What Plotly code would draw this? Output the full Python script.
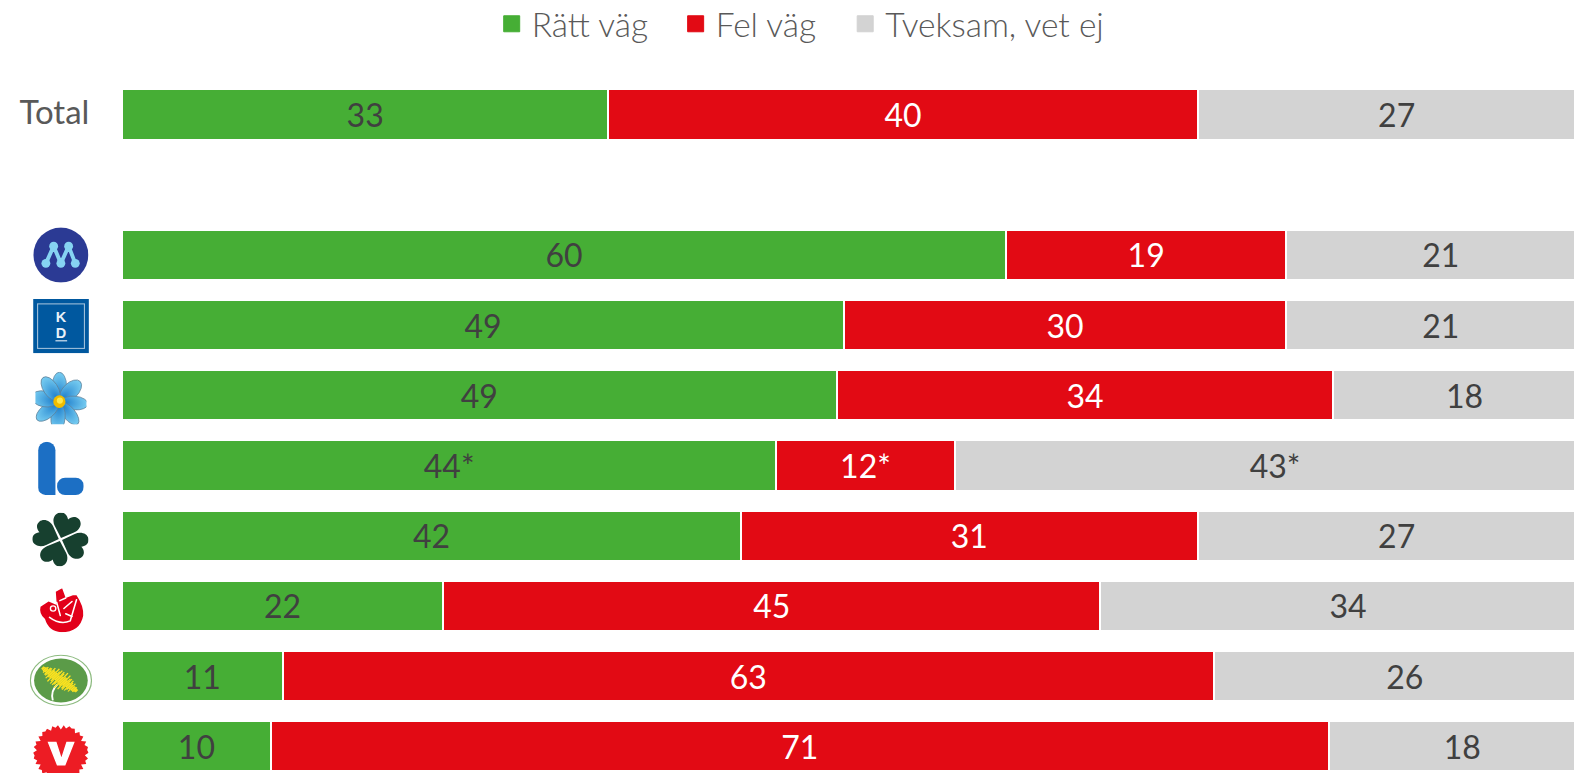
import base64, math
import plotly.graph_objects as go

categories = ["Total", "blank", "M", "KD", "SD", "L", "C", "S", "MP", "V"]
series_names = ["Rätt väg", "Fel väg", "Tveksam, vet ej"]
ratt = [33.0, None, 60.0, 49.0, 48.5, 44.4, 42.0, 21.8, 10.9, 10.1]
fel = [40.0, None, 19.0, 30.0, 33.7, 12.1, 31.0, 44.6, 63.2, 71.8]
tveksam = [27.0, None, 21.0, 21.0, 17.8, 43.5, 27.0, 33.6, 25.9, 18.1]
ratt_labels = ["33", "", "60", "49", "49", "44*", "42", "22", "11", "10"]
fel_labels = ["40", "", "19", "30", "34", "12*", "31", "45", "63", "71"]
tveksam_labels = ["27", "", "21", "21", "18", "43*", "27", "34", "26", "18"]
colors = ["#46AE35", "#E20A14", "#D3D3D3"]
label_colors = ["#404040", "#FFFFFF", "#404040"]

W, H = 1574, 773
LEFT = 121.6
PX_PER_UNIT = 14.74
ROW0, ROW_STEP = 114.4, 70.2
legend_swatch_x = [504, 688, 857.6]
legend_center_y = 24


def svg_uri(body, vb="0 0 100 100"):
    s = f'<svg xmlns="http://www.w3.org/2000/svg" viewBox="{vb}" preserveAspectRatio="none">{body}</svg>'
    return "data:image/svg+xml;base64," + base64.b64encode(s.encode()).decode()


m_logo = (
    '<circle cx="50" cy="50" r="49.5" fill="#2B3A94"/>'
    '<path d="M23 65L37 34L50 65L64 34L76 65" fill="none" stroke="#86D3F2" stroke-width="7" stroke-linejoin="round"/>'
    + "".join(f'<circle cx="{x}" cy="{y}" r="8" fill="#86D3F2"/>' for x, y in [(37, 34), (64, 34), (23, 65), (50, 65), (76, 65)])
)
kd_logo = (
    '<rect width="100" height="100" fill="#00589F"/>'
    '<rect x="8" y="9" width="84" height="82" fill="none" stroke="#9DBEDA" stroke-width="2"/>'
    '<text x="50" y="43" font-family="Liberation Sans" font-weight="bold" font-size="26" text-anchor="middle" fill="#E8F1F8">K</text>'
    '<text x="50" y="71" font-family="Liberation Sans" font-weight="bold" font-size="26" text-anchor="middle" fill="#E8F1F8">D</text>'
    '<rect x="40" y="76" width="21" height="2" fill="#E8F1F8"/>'
)
petals = "".join(
    f'<ellipse cx="47" cy="27" rx="{rx}" ry="26" fill="url(#g)" stroke="#5E7F98" stroke-width="1.4" transform="rotate({a} 47 57)"/>'
    for a, rx in [(0, 14), (47, 15), (95, 13), (140, 12), (185, 14), (232, 13), (280, 15), (325, 14)]
)
sd_logo = (
    '<defs><radialGradient id="g" cx="50%" cy="90%" r="85%"><stop offset="0" stop-color="#1F7FCC"/><stop offset="1" stop-color="#74CAF0"/></radialGradient></defs>'
    + petals
    + '<circle cx="47" cy="57" r="12" fill="#F0BC00"/><circle cx="48" cy="55" r="6" fill="#FFE84A"/>'
)
l_logo = (
    '<path d="M26 0a26 26 0 0 1 26 26V160H22a22 22 0 0 1-22-22V26A26 26 0 0 1 26 0Z" fill="#1C6FC4"/>'
    '<rect x="57" y="108" width="80" height="52" rx="24" fill="#1C6FC4"/>'
)
heart = "M0,-3L-18,-20C-26,-28 -27,-40 -18,-46C-10,-50 -3,-45 0,-39C3,-45 10,-50 18,-46C27,-40 26,-28 18,-20Z"
c_logo = "".join(
    f'<path d="{heart}" fill="#17402F" transform="translate(50 50) rotate({a}) scale(1.02)"/>' for a in [20, 110, 200, 290]
)
s_logo = (
    '<path d="M4 42L22 30L40 38L38 8L52 0L60 22L76 16L84 16Q100 40 99 62Q92 100 50 100Q22 98 14 70Q0 58 4 42Z" fill="#E2001A"/>'
    '<g fill="none" stroke="#FFFFFF" stroke-width="3.5" stroke-linecap="round">'
    '<path d="M24 66Q48 84 70 74L84 26"/><path d="M40 32L48 62"/><path d="M47 28L60 22"/><path d="M56 46L74 30"/><path d="M60 58L74 64"/>'
    '</g><circle cx="32" cy="46" r="6" fill="none" stroke="#FFFFFF" stroke-width="3"/>'
)
yellow = ""
for i in range(36):
    t = i / 35
    cx, cy = 21 + 54 * t, 26 + 44 * t
    spread = 3 + 15 * math.sin(math.pi * t) * (0.6 + 0.4 * math.cos(i * 2.3))
    yellow += (f'<line x1="{cx + 0.62 * spread:.1f}" y1="{cy - 0.78 * spread:.1f}" '
               f'x2="{cx - 0.62 * spread:.1f}" y2="{cy + 0.78 * spread:.1f}" stroke="#FFE41F" stroke-width="2.2"/>')
mp_logo = (
    '<ellipse cx="50" cy="50" rx="49" ry="48" fill="#FFFFFF" stroke="#8DBB80" stroke-width="2"/>'
    '<ellipse cx="50" cy="50" rx="43" ry="42" fill="#5B9B48"/>'
    '<path d="M37 88Q33 70 44 58" fill="none" stroke="#FFFFFF" stroke-width="3"/>' + yellow
)
pts = []
for i in range(60):
    r = 50 if i % 2 == 0 else 42 + (i % 5) * 1.4
    a = i * 2 * math.pi / 60
    pts.append(f"{50 + r * math.cos(a):.1f},{50 + r * math.sin(a):.1f}")
v_logo = (
    f'<polygon points="{" ".join(pts)}" fill="#ED1C24"/>'
    '<polygon points="26,30 42,30 51,58 60,30 75,30 58,73 43,73" fill="#FFFFFF"/>'
)

logos = [
    (m_logo, 32.7, 227.3, 55.5, 55.5),
    (kd_logo, 32.7, 299, 55.8, 54.3),
    (sd_logo, 35, 371.7, 51, 52.5),
    (l_logo, 37.7, 441.7, 45.6, 53.3, "0 0 137 160"),
    (c_logo, 32, 512.7, 56, 53.5),
    (s_logo, 38.3, 588.3, 45, 44),
    (mp_logo, 29.3, 654.3, 62.4, 52.3),
    (v_logo, 32.7, 725, 55.5, 55.5),
]
images = []
for item in logos:
    body, x, y, w, h = item[:5]
    vb = item[5] if len(item) > 5 else "0 0 100 100"
    images.append(dict(source=svg_uri(body, vb), xref="paper", yref="paper", x=(x - LEFT) / (W - LEFT), y=1 - y / H,
                       sizex=w / (W - LEFT), sizey=h / H, xanchor="left", yanchor="top", sizing="stretch", layer="above"))

fig = go.Figure()
legend_ids = ["legend", "legend2", "legend3"]
for name, vals, labs, col, lc, lid in zip(series_names, [ratt, fel, tveksam], [ratt_labels, fel_labels, tveksam_labels], colors, label_colors, legend_ids):
    fig.add_trace(go.Bar(
        y=categories, x=vals, name=name, orientation="h", showlegend=False,
        marker=dict(color=col, line=dict(color="#FFFFFF", width=2)),
        text=labs, textposition="inside", insidetextanchor="middle", textangle=0, constraintext="none",
        textfont=dict(color=lc, size=32, family="Lato"), hoverinfo="skip",
    ))
    fig.add_trace(go.Scatter(x=[None], y=[None], name=name, mode="markers", legend=lid,
                             marker=dict(symbol="square", size=18, color=col, line=dict(color=col, width=1)), showlegend=True))

legend_common = dict(orientation="v", xanchor="left", yanchor="middle", xref="paper", yref="paper",
                     font=dict(size=33.5, color="#595959", family="Lato", weight=300), bgcolor="rgba(0,0,0,0)", borderwidth=0)
SWATCH_OFFSET = 12.6
layout_legends = {
    lid: dict(legend_common, x=(sx - SWATCH_OFFSET - LEFT) / (W - LEFT), y=1 - legend_center_y / H)
    for lid, sx in zip(legend_ids, legend_swatch_x)
}

fig.update_layout(
    width=W, height=H, barmode="stack", bargap=0.285,
    margin=dict(l=LEFT, r=0, t=0, b=0, pad=0, autoexpand=False),
    paper_bgcolor="#FFFFFF", plot_bgcolor="#FFFFFF",
    font=dict(family="Lato", color="#595959"),
    showlegend=True,
    images=images,
    **layout_legends,
)
fig.update_xaxes(range=[0, (W - LEFT) / PX_PER_UNIT], visible=False, fixedrange=True)
fig.update_yaxes(
    type="category", categoryorder="array", categoryarray=categories,
    range=[(H - ROW0) / ROW_STEP, -ROW0 / ROW_STEP],
    tickmode="array", tickvals=["Total"], ticktext=["Total"],
    tickfont=dict(size=33, color="#595959", family="Lato"),
    ticks="outside", ticklen=25, ticklabelshift=2, tickcolor="rgba(0,0,0,0)", showline=False, showgrid=False, zeroline=False, fixedrange=True,
)
fig.write_html("out.html", config=dict(displayModeBar=False),
               post_script="document.body.style.margin='0';document.body.style.overflow='hidden';")
